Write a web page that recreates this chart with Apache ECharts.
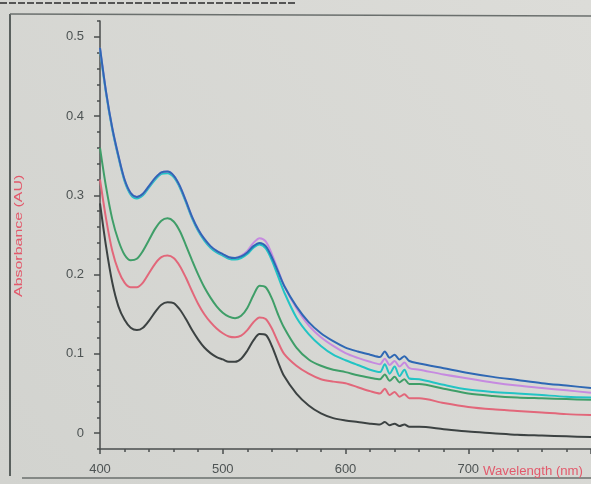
<!DOCTYPE html>
<html><head><meta charset="utf-8">
<script src="https://cdn.jsdelivr.net/npm/echarts@6/dist/echarts.min.js"></script>
<style>html,body{margin:0;padding:0;background:#d6d7d3;}#c{width:591px;height:484px;}</style>
</head><body><div id="c"></div>
<script>
const wavelengths = [400,405,410,415,420,425,430,435,440,445,450,455,460,465,470,475,480,485,490,495,500,505,510,515,520,525,530,535,540,545,550,560,570,580,590,600,610,620,628,632,636,640,644,648,652,660,680,700,720,740,760,780,800];
const blue   = [0.486,0.43,0.385,0.35,0.32,0.303,0.298,0.302,0.312,0.322,0.329,0.330,0.325,0.312,0.293,0.273,0.257,0.245,0.236,0.230,0.226,0.222,0.221,0.223,0.228,0.236,0.240,0.236,0.222,0.204,0.186,0.160,0.140,0.126,0.116,0.108,0.103,0.099,0.096,0.103,0.095,0.099,0.093,0.097,0.091,0.088,0.082,0.076,0.071,0.067,0.063,0.060,0.057];
const violet = [0.486,0.43,0.385,0.35,0.32,0.303,0.298,0.302,0.312,0.322,0.329,0.330,0.325,0.312,0.293,0.273,0.257,0.245,0.236,0.230,0.226,0.222,0.221,0.224,0.230,0.240,0.246,0.242,0.226,0.206,0.186,0.158,0.136,0.121,0.110,0.101,0.095,0.090,0.087,0.094,0.086,0.091,0.084,0.089,0.082,0.080,0.074,0.069,0.064,0.060,0.057,0.054,0.051];
const cyan   = [0.484,0.428,0.383,0.348,0.318,0.301,0.296,0.300,0.310,0.320,0.327,0.328,0.323,0.310,0.291,0.271,0.255,0.243,0.234,0.228,0.224,0.220,0.219,0.221,0.226,0.234,0.238,0.233,0.218,0.198,0.178,0.146,0.125,0.110,0.099,0.092,0.086,0.080,0.077,0.087,0.075,0.084,0.072,0.080,0.069,0.068,0.061,0.055,0.052,0.050,0.048,0.046,0.045];
const green  = [0.36,0.31,0.27,0.243,0.225,0.218,0.220,0.230,0.244,0.258,0.268,0.271,0.267,0.255,0.237,0.218,0.200,0.184,0.171,0.160,0.152,0.147,0.145,0.148,0.158,0.174,0.186,0.184,0.170,0.150,0.133,0.108,0.093,0.085,0.080,0.077,0.073,0.070,0.068,0.074,0.066,0.071,0.064,0.068,0.062,0.062,0.056,0.050,0.047,0.045,0.044,0.043,0.042];
const red    = [0.32,0.27,0.23,0.205,0.19,0.184,0.184,0.19,0.202,0.214,0.222,0.224,0.221,0.211,0.196,0.179,0.163,0.150,0.140,0.132,0.126,0.122,0.121,0.123,0.130,0.140,0.146,0.144,0.132,0.115,0.100,0.085,0.075,0.068,0.065,0.063,0.058,0.053,0.050,0.056,0.048,0.052,0.046,0.049,0.044,0.044,0.038,0.033,0.030,0.028,0.026,0.024,0.023];
const black  = [0.29,0.235,0.19,0.16,0.143,0.133,0.130,0.133,0.142,0.153,0.162,0.165,0.164,0.156,0.144,0.130,0.118,0.108,0.101,0.096,0.093,0.090,0.090,0.094,0.104,0.117,0.125,0.124,0.110,0.090,0.072,0.050,0.035,0.025,0.019,0.016,0.014,0.012,0.011,0.014,0.010,0.012,0.009,0.011,0.008,0.008,0.005,0.002,0.000,-0.002,-0.003,-0.004,-0.005];
const yTicks = [0,0.1,0.2,0.3,0.4,0.5];
const xTicks = [400,500,600,700];

const seriesDefs = [
  {name:'black', data:black, color:'#3c4242'},
  {name:'red', data:red, color:'#e2677a'},
  {name:'green', data:green, color:'#3f9e68'},
  {name:'cyan', data:cyan, color:'#22c4c4'},
  {name:'violet', data:violet, color:'#c68ae0'},
  {name:'blue', data:blue, color:'#2f68b4'}
];

const axisColor = '#4a4d4d';
const chart = echarts.init(document.getElementById('c'));
chart.setOption({
  backgroundColor: {type:'linear', x:0, y:1, x2:1, y2:0, colorStops:[{offset:0,color:'#d2d3cf'},{offset:1,color:'#dcdcd8'}]},
  animation: false,
  grid: {left: 100, width: 495, top: 21, bottom: 35},
  xAxis: [{
    type: 'value', min: 400, max: 800, interval: 20,
    axisLine: {show: true, onZero: false, lineStyle: {color: axisColor, width: 1.5}},
    axisTick: {show: true, length: 3, lineStyle: {color: axisColor, width: 1.5}},
    splitLine: {show: false},
    axisLabel: {margin: 14, color: '#4e5454', fontSize: 13, fontFamily: 'Liberation Sans',
      showMaxLabel: false,
      formatter: v => xTicks.indexOf(Math.round(v)) >= 0 ? String(Math.round(v)) : ''}
  }, {
    type: 'value', min: 400, max: 800, interval: 100, position: 'bottom',
    axisLine: {show: false, onZero: false},
    axisTick: {show: true, length: 5, lineStyle: {color: axisColor, width: 1.5}},
    splitLine: {show: false},
    axisLabel: {show: false}
  }],
  yAxis: [{
    type: 'value', min: -0.02, max: 0.52, interval: 0.02,
    axisLine: {show: true, onZero: false, lineStyle: {color: axisColor, width: 1.5}},
    axisTick: {show: true, length: 3, lineStyle: {color: axisColor, width: 1.5}},
    splitLine: {show: false},
    axisLabel: {margin: 16, color: '#4e5454', fontSize: 13, fontFamily: 'Liberation Sans',
      formatter: v => { const r = Math.round(v*100)/100; return yTicks.indexOf(r) >= 0 ? String(r) : ''; }}
  }, {
    type: 'value', min: -0.02, max: 0.52, position: 'left',
    axisLine: {show: false, onZero: false},
    axisTick: {show: true, length: 6, customValues: yTicks, lineStyle: {color: axisColor, width: 1.5}},
    splitLine: {show: false},
    axisLabel: {show: false}
  }],
  graphic: [
    {type:'line', shape:{x1:10,y1:14,x2:10,y2:476}, style:{stroke:'#5a605e', lineWidth:2}},
    {type:'line', shape:{x1:10,y1:14,x2:591,y2:16}, style:{stroke:'#6a6f6d', lineWidth:1.5}},
    {type:'line', shape:{x1:22,y1:478,x2:591,y2:478}, style:{stroke:'#6a6f6d', lineWidth:1.5}},
    {type:'line', shape:{x1:0,y1:3,x2:295,y2:3}, style:{stroke:'#555', lineWidth:2, lineDash:[7,2]}},
    {type:'text', x: 483, y: 466, style:{text:'Wavelength (nm)', fill:'#e25a6c', font:'12px Liberation Sans'}, scaleX: 1.1},
    {type:'text', x: 13, y: 297, rotation: Math.PI/2, scaleX: 1.45,
      style:{text:'Absorbance (AU)', fill:'#e25a6c', font:'11px Liberation Sans'}}
  ],
  series: seriesDefs.map(s => ({
    name: s.name, type: 'line', showSymbol: false, smooth: 0.3,
    xAxisIndex: 0, yAxisIndex: 0,
    data: wavelengths.map((w, i) => [w, s.data[i]]),
    lineStyle: {color: s.color, width: 2},
    itemStyle: {color: s.color}
  }))
});
</script></body></html>
